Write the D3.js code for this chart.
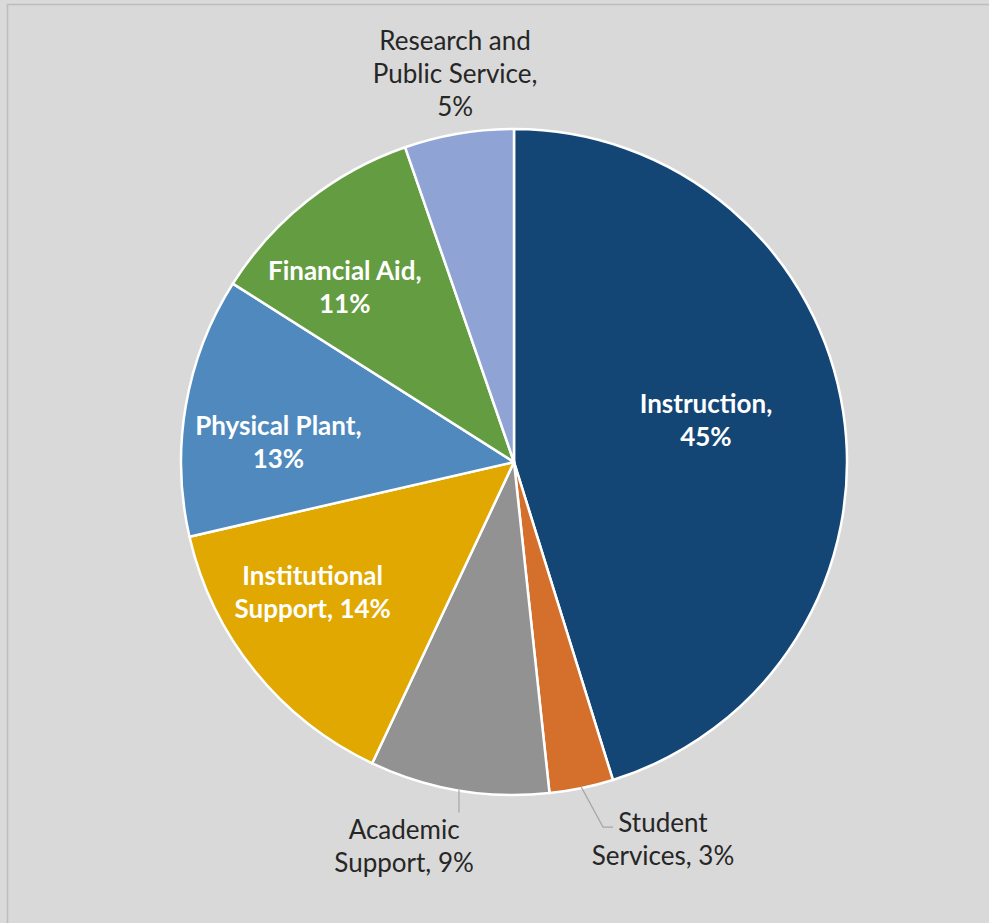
<!DOCTYPE html>
<html>
<head>
<meta charset="utf-8">
<script src="https://cdn.jsdelivr.net/npm/d3@7"></script>
<style>
  html, body { margin: 0; padding: 0; background: #D9D9D9; }
  svg { display: block; }
</style>
</head>
<body>
<svg id="chart" width="989" height="923"></svg>
<script>
// ---- data ----
const categories = ["Instruction", "Student Services", "Academic Support", "Institutional Support", "Physical Plant", "Financial Aid", "Research and Public Service"];
const values = [45.2, 3.1, 8.7, 14.4, 12.6, 10.7, 5.3];
const pctLabels = ["45%", "3%", "9%", "14%", "13%", "11%", "5%"];
const colors = ["#134674", "#D46F2C", "#929292", "#E0A800", "#4F89BD", "#639C41", "#8FA3D4"];
const labelLines = [
  ["Instruction,", "45%"],
  ["Student", "Services, 3%"],
  ["Academic", "Support, 9%"],
  ["Institutional", "Support, 14%"],
  ["Physical Plant,", "13%"],
  ["Financial Aid,", "11%"],
  ["Research and", "Public Service,", "5%"]
];

// ---- layout ----
const svg = d3.select("#chart");
const W = 989, H = 923;
const cx = 514, cy = 462, R = 333;

svg.append("rect").attr("x", 0).attr("y", 0).attr("width", W).attr("height", H).attr("fill", "#DADADA");
svg.append("rect").attr("x", 7.5).attr("y", 4.5).attr("width", W + 20).attr("height", H + 20)
  .attr("fill", "#D9D9D9").attr("stroke", "#BDBDBD").attr("stroke-width", 1.5);

const data = categories.map((c, i) => ({ name: c, value: values[i], color: colors[i], lines: labelLines[i], pct: pctLabels[i] }));
const pie = d3.pie().value(d => d.value).sort(null).startAngle(0).endAngle(2 * Math.PI);
const arcs = pie(data);
const arc = d3.arc().innerRadius(0).outerRadius(R);

const g = svg.append("g").attr("transform", `translate(${cx},${cy})`);
g.selectAll("path.slice").data(arcs).enter().append("path")
  .attr("class", "slice")
  .attr("d", arc)
  .attr("fill", d => d.data.color)
  .attr("stroke", "#FFFFFF")
  .attr("stroke-width", 2.5)
  .attr("stroke-linejoin", "round");

// label placement: polar position (radius factor, angle shift in degrees from slice middle)
const labelCfg = [
  { rf: 0.59, da: -3.7, inside: true },   // Instruction
  { rf: 1.218, da: -9.85, inside: false },  // Student Services
  { rf: 1.202, da: 6.4, inside: false },   // Academic Support
  { rf: 0.72, da: 6.0, inside: true },   // Institutional
  { rf: 0.71, da: -4.9, inside: true },   // Physical Plant
  { rf: 0.73, da: -5.8, inside: true },   // Financial Aid
  { rf: 1.178, da: 0.9, inside: false }   // Research
];

const font = "Lato, 'Open Sans', sans-serif";
const fs = 26, lh = 33;

arcs.forEach((a, i) => {
  const cfg = labelCfg[i];
  const mid = (a.startAngle + a.endAngle) / 2 + cfg.da * Math.PI / 180;
  const r = R * cfg.rf;
  const lx = r * Math.sin(mid);
  const ly = -r * Math.cos(mid);
  const lines = a.data.lines;
  const n = lines.length;
  const t = g.append("text")
    .attr("text-anchor", "middle")
    .attr("font-family", font)
    .attr("font-size", fs)
    .attr("font-weight", cfg.inside ? 700 : 400)
    .attr("fill", cfg.inside ? "#FFFFFF" : "#262626");
  lines.forEach((s, k) => {
    t.append("tspan")
      .attr("x", lx)
      .attr("y", ly + (k - (n - 1) / 2) * lh + 9)
      .text(s);
  });
});

// leader lines for outside labels
const leader = d3.line();
function edgePoint(a, rr) {
  const ang = (a.startAngle + a.endAngle) / 2;
  return [rr * Math.sin(ang), -rr * Math.cos(ang)];
}
// Academic Support: vertical tick from edge downwards
{
  const p0 = edgePoint(arcs[2], R - 1);
  g.append("path").attr("d", leader([p0, [p0[0], p0[1] + 23]]))
    .attr("fill", "none").attr("stroke", "#A6A6A6").attr("stroke-width", 1.2);
}
// Student Services: diagonal then short horizontal
{
  const p0 = edgePoint(arcs[1], R - 1);
  const p1 = [p0[0] + 21.7, p0[1] + 40];
  const p2 = [p1[0] + 10, p1[1]];
  g.append("path").attr("d", leader([p0, p1, p2]))
    .attr("fill", "none").attr("stroke", "#A6A6A6").attr("stroke-width", 1.2);
}
</script>
</body>
</html>
